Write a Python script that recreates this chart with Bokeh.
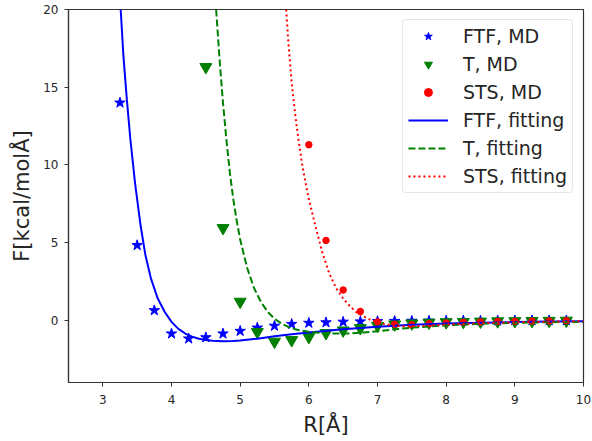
from bokeh.plotting import figure
from bokeh.models import Range1d, FixedTicker, Legend, LegendItem
from bokeh.embed import file_html
from bokeh.resources import INLINE

# ---- data ----
ftf_md_r = [3.25, 3.5, 3.75, 4.0, 4.25, 4.5, 4.75, 5.0, 5.25, 5.5, 5.75, 6.0, 6.25, 6.5,
            6.75, 7.0, 7.25, 7.5, 7.75, 8.0, 8.25, 8.5, 8.75, 9.0, 9.25, 9.5, 9.75]
ftf_md_f = [14.0, 4.83, 0.64, -0.86, -1.18, -1.1, -0.86, -0.69, -0.48, -0.36, -0.24, -0.17, -0.14, -0.1,
            -0.08, -0.06, -0.05, -0.04, -0.03, -0.03, -0.02, -0.02, -0.02, -0.01, -0.01, -0.01, -0.01]

t_md_r = [4.5, 4.75, 5.0, 5.25, 5.5, 5.75, 6.0, 6.25, 6.5, 6.75, 7.0, 7.25, 7.5, 7.75,
          8.0, 8.25, 8.5, 8.75, 9.0, 9.25, 9.5, 9.75]
t_md_f = [16.3, 5.94, 1.2, -0.75, -1.37, -1.27, -1.07, -0.82, -0.65, -0.5, -0.35, -0.26, -0.2, -0.15,
          -0.12, -0.1, -0.08, -0.06, -0.05, -0.04, -0.03, -0.02]

sts_md_r = [6.0, 6.25, 6.5, 6.75, 7.0, 7.25, 7.5, 7.75, 8.0, 8.25, 8.5, 8.75, 9.0, 9.25, 9.5, 9.75]
sts_md_f = [11.3, 5.14, 1.95, 0.57, -0.1, -0.26, -0.28, -0.22, -0.17, -0.13, -0.1, -0.08, -0.06, -0.05, -0.04, -0.03]

ftf_fit_r = [3.26, 3.30, 3.35, 3.40, 3.47, 3.55, 3.62, 3.70, 3.80, 3.90, 4.00, 4.10, 4.20, 4.30,
             4.40, 4.50, 4.60, 4.75, 4.90, 5.00, 5.25, 5.5, 5.75, 6.0, 6.5, 7.0, 7.5, 8.0, 8.5,
             9.0, 9.5, 10.0]
ftf_fit_f = [20.0, 17.0, 14.2, 11.7, 8.8, 6.1, 4.2, 2.7, 1.4, 0.55, -0.1, -0.55, -0.85, -1.05,
             -1.18, -1.26, -1.31, -1.34, -1.33, -1.30, -1.18, -1.03, -0.9, -0.79, -0.58, -0.41, -0.29, -0.21, -0.15,
             -0.11, -0.08, -0.06]

t_fit_r = [4.65, 4.70, 4.75, 4.80, 4.85, 4.90, 4.95, 5.00, 5.10, 5.20, 5.30, 5.40, 5.50, 5.60,
           5.70, 5.80, 5.90, 6.0, 6.2, 6.4, 6.6, 6.8, 7.0, 7.25, 7.5, 8.0, 8.5, 9.0, 9.5, 10.0]
t_fit_f = [20.0, 16.8, 14.0, 11.6, 9.5, 7.8, 6.4, 5.2, 3.4, 2.1, 1.2, 0.55, 0.1, -0.2,
           -0.42, -0.57, -0.67, -0.74, -0.82, -0.85, -0.84, -0.78, -0.7, -0.58, -0.47, -0.32, -0.22, -0.16, -0.12, -0.1]

sts_fit_r = [5.67, 5.70, 5.75, 5.80, 5.85, 5.90, 5.95, 6.00, 6.10, 6.20, 6.30, 6.40, 6.50, 6.60,
             6.70, 6.80, 6.90, 7.00, 7.10, 7.25, 7.40, 7.55, 7.75, 8.0, 8.5, 9.0, 9.5, 10.0]
sts_fit_f = [20.0, 18.0, 15.3, 13.3, 11.6, 10.1, 8.9, 7.8, 6.0, 4.3, 3.0, 2.05, 1.4, 0.9,
             0.5, 0.25, 0.02, -0.12, -0.24, -0.35, -0.38, -0.37, -0.33, -0.27, -0.18, -0.12, -0.08, -0.06]

x_ticks = [3, 4, 5, 6, 7, 8, 9, 10]
y_ticks = [0, 5, 10, 15, 20]
labels = ["FTF, MD", "T, MD", "STS, MD", "FTF, fitting", "T, fitting", "STS, fitting"]

FONT = "DejaVu Sans"
TXT = "#262626"

p = figure(width=592, height=441, output_backend="svg", toolbar_location=None,
           x_range=Range1d(2.5, 10), y_range=Range1d(-4, 20),
           min_border_left=68, min_border_right=9, min_border_top=9, min_border_bottom=59)
p.background_fill_color = "white"
p.border_fill_color = "white"
p.outline_line_color = "#333333"
p.outline_line_width = 1.2
p.xgrid.visible = False
p.ygrid.visible = False

for ax in (p.xaxis[0], p.yaxis[0]):
    ax.axis_line_color = "#333333"
    ax.axis_line_width = 1.2
    ax.major_tick_line_color = "#333333"
    ax.major_tick_out = 4
    ax.major_tick_in = 0
    ax.minor_tick_line_color = None
    ax.major_label_text_font = FONT
    ax.major_label_text_font_size = "12px"
    ax.major_label_text_color = TXT
    ax.axis_label_text_font = FONT
    ax.axis_label_text_font_size = "21px"
    ax.axis_label_text_font_style = "normal"
    ax.axis_label_text_color = TXT

p.xaxis.ticker = FixedTicker(ticks=x_ticks)
p.yaxis.ticker = FixedTicker(ticks=y_ticks)
p.xaxis.axis_label = "R[Å]"
p.yaxis.axis_label = "F[kcal/molÅ]"
p.xaxis.major_label_standoff = 8
p.yaxis.major_label_standoff = 6
p.xaxis.axis_label_standoff = 6
p.yaxis.axis_label_standoff = 6

r1 = p.scatter(ftf_md_r, ftf_md_f, marker="star", size=11, color="blue")
r2 = p.scatter(t_md_r, t_md_f, marker="inverted_triangle", size=12, color="green")
r3 = p.scatter(sts_md_r, sts_md_f, marker="circle", size=6.5, color="red")
r4 = p.line(ftf_fit_r, ftf_fit_f, line_color="blue", line_width=2)
r5 = p.line(t_fit_r, t_fit_f, line_color="green", line_width=2, line_dash="7 3")
r6 = p.line(sts_fit_r, sts_fit_f, line_color="red", line_width=2, line_dash="2 3")

legend = Legend(items=[LegendItem(label=l, renderers=[r]) for l, r in
                       zip(labels, [r1, r2, r3, r4, r5, r6])],
                location="top_right", margin=10, padding=5, spacing=6,
                glyph_width=40, glyph_height=20, label_height=20, label_standoff=15,
                label_text_font=FONT, label_text_font_size="19px", label_text_color=TXT,
                border_line_color="#cccccc", border_line_width=1, border_radius=4,
                background_fill_color="white", background_fill_alpha=0.8)
p.add_layout(legend)

open("out.html", "w").write(file_html(p, INLINE))
